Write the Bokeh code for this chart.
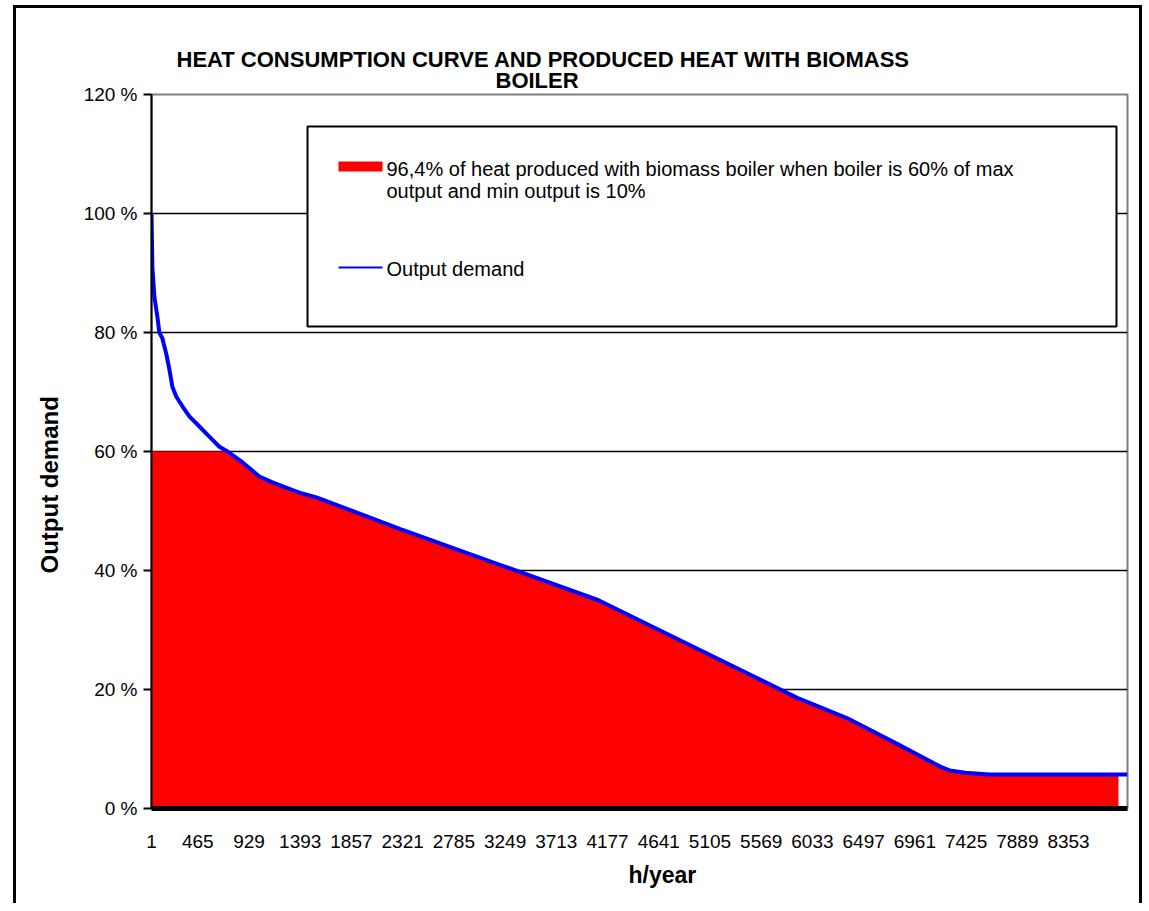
import numpy as np
from bokeh.plotting import figure
from bokeh.models import Range1d, FixedTicker, Label, BoxAnnotation, Title
from bokeh.embed import file_html
from bokeh.resources import INLINE

# ---------------- data ----------------
hours = [1, 9, 27, 54, 72, 100, 136, 163, 190, 226, 281, 344, 435, 525, 616, 690,
         824, 978, 1096, 1340, 1495, 2250, 3150, 4050, 4950, 5850, 6300, 6750,
         7150, 7230, 7370, 7590, 8760]
demand = [100, 91, 86, 82.7, 80, 79, 76.3, 73.8, 70.9, 69.2, 67.6, 65.9, 64.2, 62.5,
          60.8, 60, 58.2, 55.8, 54.8, 53.1, 52.3, 47, 41, 35, 26.8, 18.6, 15.2, 10.9,
          7.0, 6.4, 6.0, 5.7, 5.7]
boiler_max = 60

xtick_labels = ["1", "465", "929", "1393", "1857", "2321", "2785", "3249", "3713",
                "4177", "4641", "5105", "5569", "6033", "6497", "6961", "7425",
                "7889", "8353"]
ytick_values = [0, 20, 40, 60, 80, 100, 120]
ytick_labels = ["0 %", "20 %", "40 %", "60 %", "80 %", "100 %", "120 %"]

title_lines = ["HEAT CONSUMPTION CURVE AND PRODUCED HEAT WITH BIOMASS", "BOILER"]
legend_area = ["96,4% of heat produced with biomass boiler  when boiler is 60% of  max",
               "output and min output is 10%"]
legend_line = "Output demand"
x_title = "h/year"
y_title = "Output demand"

FONT = "Liberation Sans"
X_END = 8842
LABEL_SHIFT = 45

produced = list(np.minimum(np.array(demand), boiler_max))

p = figure(width=1129, height=898,
           x_range=Range1d(1, X_END), y_range=Range1d(0, 120),
           output_backend="svg", toolbar_location=None,
           min_border_left=135, min_border_right=18,
           min_border_top=86, min_border_bottom=98)
p.title.visible = False
p.styles = {"border-left": "3px solid black", "border-top": "3px solid black",
            "border-right": "3px solid black", "margin-left": "13px",
            "margin-top": "5px"}
p.background_fill_color = "white"
p.border_fill_color = "white"
p.outline_line_color = "#808080"
p.outline_line_width = 2

p.xgrid.visible = False
p.ygrid.ticker = FixedTicker(ticks=ytick_values[1:-1])
p.ygrid.grid_line_color = "black"
p.ygrid.grid_line_width = 1.5

# y axis
p.yaxis.ticker = FixedTicker(ticks=ytick_values)
p.yaxis.major_label_overrides = {v: l for v, l in zip(ytick_values, ytick_labels)}
p.yaxis.axis_line_color = "black"
p.yaxis.axis_line_width = 2
p.yaxis.major_tick_out = 8
p.yaxis.major_tick_in = 0
p.yaxis.major_tick_line_width = 2
p.yaxis.minor_tick_line_color = None
p.yaxis.major_label_standoff = 6
p.yaxis.major_label_text_font = FONT
p.yaxis.major_label_text_font_size = "19px"
p.yaxis.major_label_text_color = "black"

# x axis
xt = [max(int(l) - LABEL_SHIFT, 1) for l in xtick_labels]
p.xaxis.ticker = FixedTicker(ticks=xt)
p.xaxis.major_label_overrides = {t: l for t, l in zip(xt, xtick_labels)}
p.xaxis.axis_line_color = "black"
p.xaxis.axis_line_width = 5
p.xaxis.major_tick_out = 0
p.xaxis.major_tick_in = 0
p.xaxis.minor_tick_line_color = None
p.xaxis.major_label_standoff = 26
p.xaxis.major_label_text_font = FONT
p.xaxis.major_label_text_font_size = "19px"
p.xaxis.major_label_text_color = "black"

# series
p.varea(x=hours, y1=[0] * len(hours), y2=produced, fill_color="#FF0000")
p.line(x=hours + [X_END], y=demand + [demand[-1]], line_color="#0000FF", line_width=4)

# legend box (drawn manually)
def sbox(l, r, t, b, **kw):
    return BoxAnnotation(left=l, right=r, top=t, bottom=b,
                         left_units="screen", right_units="screen",
                         top_units="screen", bottom_units="screen", **kw)

p.add_layout(sbox(156, 965, 682, 482, fill_color="white", fill_alpha=1.0,
                  line_color="black", line_alpha=1.0, line_width=2))
p.add_layout(sbox(187, 231, 647, 637, fill_color="#FF0000", fill_alpha=1.0,
                  line_color=None))
p.add_layout(sbox(187, 231, 542, 540, fill_color="#0000FF", fill_alpha=1.0,
                  line_color=None))
for txt, yy in [(legend_area[0], 640), (legend_area[1], 618), (legend_line, 540)]:
    p.add_layout(Label(x=235, y=yy, x_units="screen", y_units="screen", text=txt,
                       text_font=FONT, text_font_size="20px", text_color="black",
                       text_align="left", text_baseline="alphabetic"))

# title (two lines, stacked outward from the frame)
p.add_layout(Title(text=title_lines[1], align="left", offset=344, standoff=4,
                   text_font=FONT, text_font_size="22px", text_font_style="bold",
                   text_color="black"), "above")
p.add_layout(Title(text=title_lines[0], align="left", offset=25, standoff=-17,
                   text_font=FONT, text_font_size="22px", text_font_style="bold",
                   text_color="black"), "above")

# axis titles
p.add_layout(Title(text=y_title, align="left", offset=235, standoff=35,
                   text_font=FONT, text_font_size="24px", text_font_style="bold",
                   text_color="black"), "left")
p.add_layout(Title(text=x_title, align="left", offset=477, standoff=18,
                   text_font=FONT, text_font_size="23px", text_font_style="bold",
                   text_color="black"), "below")

open("out.html", "w").write(file_html(p, INLINE))
